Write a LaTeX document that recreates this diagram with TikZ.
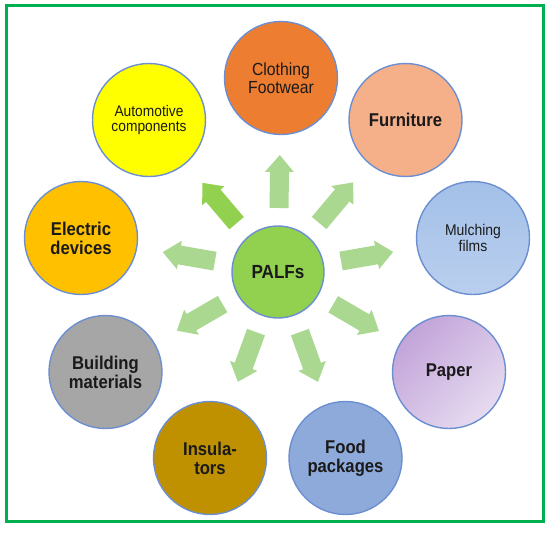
\documentclass[tikz,border=0pt]{standalone}
\usepackage{fontspec}
\setmainfont{Liberation Sans}[FakeStretch=0.9]
\usetikzlibrary{arrows.meta,calc}
\definecolor{framegreen}{HTML}{00B050}
\definecolor{cborder}{HTML}{6B8FD0}
\definecolor{txt}{HTML}{1A1A1A}
\definecolor{palfsc}{HTML}{92D050}
\definecolor{clothc}{HTML}{ED7D31}
\definecolor{autoc}{HTML}{FFFF00}
\definecolor{furnc}{HTML}{F5B08A}
\definecolor{elecc}{HTML}{FFC000}
\definecolor{mulchtop}{HTML}{A3C0E8}
\definecolor{mulchbot}{HTML}{BACFEE}
\definecolor{buildc}{HTML}{A6A6A6}
\definecolor{papertop}{HTML}{C2A4D9}
\definecolor{paperbot}{HTML}{E6DBF0}
\definecolor{insulc}{HTML}{BF9000}
\definecolor{foodc}{HTML}{8EAADB}
\definecolor{lightarr}{HTML}{AAD891}
\definecolor{darkarr}{HTML}{92D050}
\begin{document}
\begin{tikzpicture}[x=1pt,y=-1pt,
  circ/.style={circle, draw=cborder, line width=1.4pt, minimum size=113pt,
    inner sep=0pt, align=center, text=txt},
  bigtext/.style={font=\fontsize{18.5}{19}\selectfont\bfseries},
  smalltext/.style={font=\fontsize{15.3}{15.5}\selectfont},
  arr/.style={line width=19pt, draw=lightarr, -{Triangle[width=28pt,length=17pt]}},
]
\useasboundingbox (0,0) rectangle (550,533);
\draw[framegreen, line width=3pt] (6,5) rectangle (543,521);

\node[circ, fill=palfsc, minimum size=92pt, font=\fontsize{19}{19}\selectfont\bfseries] (palfs) at (278,272) {PALFs};
\node[circ, fill=clothc, font=\fontsize{17.5}{17.5}\selectfont] (cloth) at (281,78) {Clothing\\Footwear};
\node[circ, fill=autoc, smalltext] (auto) at (149,120) {Automotive\\components};
\node[circ, fill=furnc, bigtext] (furn) at (405.5,120) {Furniture};
\node[circ, fill=elecc, bigtext] (elec) at (81,238) {Electric\\devices};
\node[circ, top color=mulchtop, bottom color=mulchbot, draw=cborder, font=\fontsize{15.5}{15.7}\selectfont] (mulch) at (473,238) {Mulching\\films};
\node[circ, fill=buildc, bigtext] (build) at (105.5,372) {Building\\materials};
\node[circ, top color=papertop, bottom color=paperbot, shading angle=45, draw=cborder, bigtext] (paper) at (449,372) {Paper};
\node[circ, fill=insulc, bigtext] (insul) at (210,458) {Insula-\\tors};
\node[circ, fill=foodc, bigtext] (food) at (345.5,458) {Food\\packages};

\foreach \t in {cloth,furn,elec,mulch,build,paper,insul,food}
  \draw[arr] ($(palfs.center)!64pt!(\t.center)$) -- ($(palfs.center)!117pt!(\t.center)$);
\draw[arr, draw=darkarr] ($(palfs.center)!64pt!(auto.center)$) -- ($(palfs.center)!117pt!(auto.center)$);
\end{tikzpicture}
\end{document}
